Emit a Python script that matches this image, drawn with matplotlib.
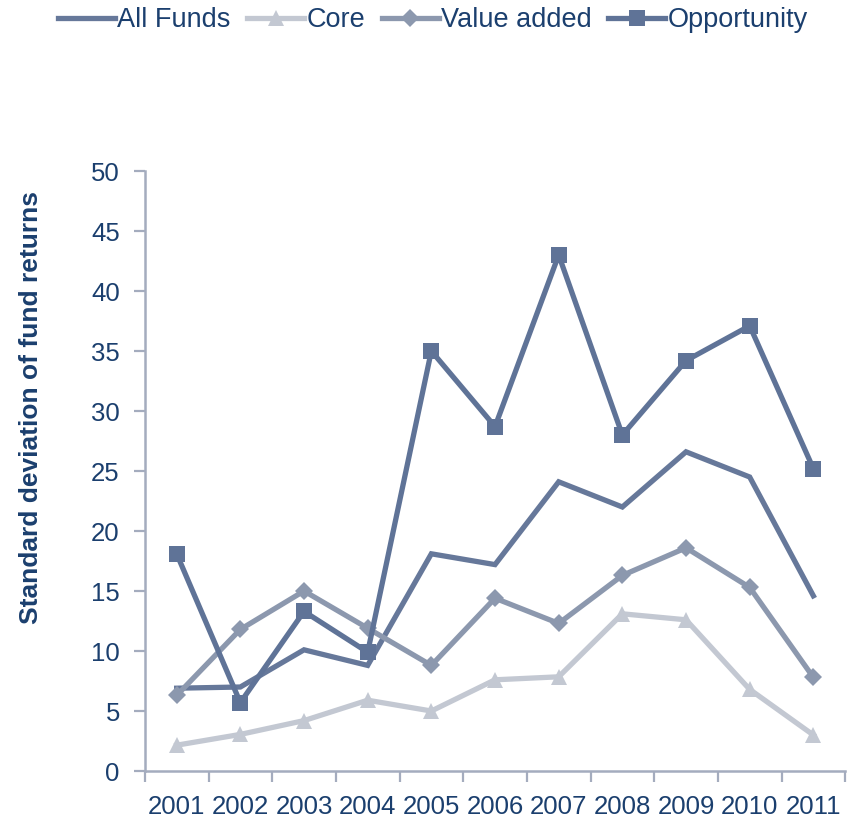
import numpy as np
import matplotlib.pyplot as plt
from matplotlib.ticker import FixedLocator

plt.rcParams['font.family'] = ['Liberation Sans', 'DejaVu Sans']

anios = ["2001", "2002", "2003", "2004", "2005", "2006",
         "2007", "2008", "2009", "2010", "2011"]
all_funds = [6.9, 7.0, 10.1, 8.8, 18.1, 17.2, 24.1, 22.0, 26.6, 24.5, 14.6]
core = [2.15, 3.05, 4.2, 5.9, 5.0, 7.6, 7.85, 13.1, 12.6, 6.8, 3.0]
value_added = [6.3, 11.8, 15.0, 11.9, 8.8, 14.4, 12.3, 16.3, 18.6, 15.3, 7.8]
opportunity = [18.1, 5.7, 13.3, 9.9, 35.0, 28.7, 43.0, 28.0, 34.2, 37.1, 25.2]

texto = "#1b3f6e"
eje = "#a4acbe"

fig = plt.figure(figsize=(8.52, 8.19), dpi=100)
ax = fig.add_axes([0.170, 0.0586, 0.822, 0.7326])

x = np.arange(len(anios))
series = [
    ("All Funds", all_funds, "#66789a", None, 0),
    ("Core", core, "#c3c8d2", "^", 11),
    ("Value added", value_added, "#8c98ae", "D", 9),
    ("Opportunity", opportunity, "#5f7397", "s", 12),
]
for nombre, valores, color, marca, tam in series:
    ax.plot(x, valores, color=color, linewidth=3.8, marker=marca,
            markersize=tam, markeredgewidth=0, label=nombre,
            solid_joinstyle='miter')

ax.set_xlim(-0.5, len(anios) - 0.5)
ax.set_ylim(0, 50)
ax.set_yticks(np.arange(0, 51, 5))
ax.set_xticks(x)
ax.set_xticklabels(anios)
ax.xaxis.set_minor_locator(FixedLocator(np.arange(-0.5, len(anios), 1.0)))
ax.tick_params(axis='x', which='major', length=0, pad=17, labelsize=18.5, labelcolor=texto)
ax.tick_params(axis='x', which='minor', length=8, width=1.6, color=eje)
ax.tick_params(axis='y', length=8, width=1.6, color=eje, pad=10, labelsize=18.5, labelcolor=texto)

for lado in ['top', 'right']:
    ax.spines[lado].set_visible(False)
for lado in ['left', 'bottom']:
    ax.spines[lado].set_color(eje)
    ax.spines[lado].set_linewidth(1.8)

fig.text(31 / 852, 1 - 407 / 819, "Standard deviation of fund returns",
         rotation=90, ha='center', va='center', fontsize=19,
         fontweight='bold', color=texto)

fig.legend(loc='center', bbox_to_anchor=(433 / 852, 1 - 20 / 819), ncol=4,
           frameon=False, fontsize=19.5, handlelength=2.1, handletextpad=0.1,
           columnspacing=0.6, labelcolor=texto, borderpad=0, borderaxespad=0)

fig.savefig("out.png", dpi=100)
